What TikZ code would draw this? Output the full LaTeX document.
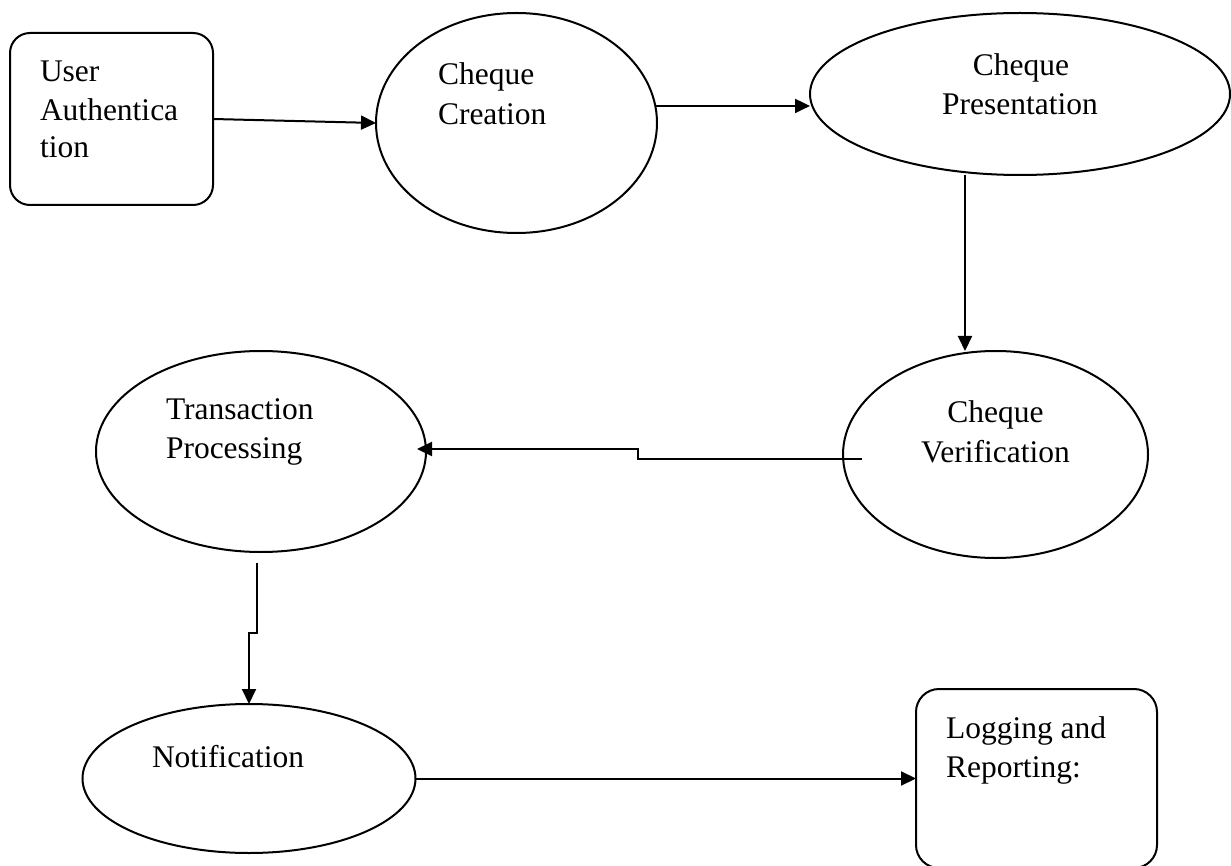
\documentclass[tikz,border=0pt]{standalone}
\usepackage{fontspec}
\setmainfont{Liberation Serif}
\usetikzlibrary{shapes.geometric,arrows.meta,calc}
\begin{document}
\begin{tikzpicture}[x=1pt,y=-1pt,
  shp/.style={draw=black,line width=2pt,inner sep=0pt,outer sep=0pt},
  proc/.style={shp,ellipse},
  rbox/.style={shp,rectangle,rounded corners=20pt},
  txt/.style={inner sep=0pt,outer sep=0pt,font=\fontsize{31.5}{39}\selectfont},
  arr/.style={line width=2pt,-{Triangle[length=15pt,width=14pt]}}
]
\clip (0,0) rectangle (1231,866);
\fill[white] (0,0) rectangle (1231,866);

% shapes
\node[rbox,minimum width=203pt,minimum height=172pt] (ua) at (111.5,119) {};
\node[proc,minimum width=281pt,minimum height=220pt] (cc) at (516.5,123) {};
\node[proc,minimum width=420pt,minimum height=162pt] (cp) at (1020,94) {};
\node[proc,minimum width=305pt,minimum height=207pt] (cv) at (995.5,454.5) {};
\node[proc,minimum width=330pt,minimum height=201pt] (tp) at (261,451.5) {};
\node[proc,minimum width=333pt,minimum height=149pt] (nt) at (249,778.5) {};
\node[rbox,rounded corners=23pt,minimum width=241pt,minimum height=179pt] (lr) at (1036.5,778.5) {};

% texts
\node[txt,anchor=base west] (ua1) at (40,82) {User};
\node[txt,anchor=base west] (ua2) at (40,121) {Authentica};
\node[txt,anchor=base west] (ua3) at (40,158) {tion};
\node[txt,anchor=base west] (cc1) at (438,85) {Cheque};
\node[txt,anchor=base west] (cc2) at (438,125) {Creation};
\node[txt,anchor=base] (cp1) at (1021,76) {Cheque};
\node[txt,anchor=base] (cp2) at (1020,115) {Presentation};
\node[txt,anchor=base] (cv1) at (995.5,422) {Cheque};
\node[txt,anchor=base] (cv2) at (995.5,462) {Verification};
\node[txt,anchor=base west] (tp1) at (166,419) {Transaction};
\node[txt,anchor=base west] (tp2) at (166,458) {Processing};
\node[txt,anchor=base west] (nt1) at (152,767) {Notification};
\node[txt,anchor=base west] (lr1) at (946,738) {Logging and};
\node[txt,anchor=base west] (lr2) at (946,777) {Reporting:};

% connectors
\coordinate (vx) at (965,0);
\draw[arr] (ua.east) -- (cc.west);
\draw[arr] (cc.7) -- (cc.7 -| cp.west);
\draw[arr] (cp.south -| vx) -- (cv.north -| vx);
\draw[arr] ($(cv.west)+(19,4.5)$) -- ++(-224,0) -- ++(0,-10) -- ($(tp.east)+(-9,-2.5)$);
\draw[arr] ($(tp.south)+(-4,11)$) -- ++(0,70) -- ++(-8,0) -- (nt.north);
\draw[arr] (nt.east) -- (lr.west);
\end{tikzpicture}
\end{document}
